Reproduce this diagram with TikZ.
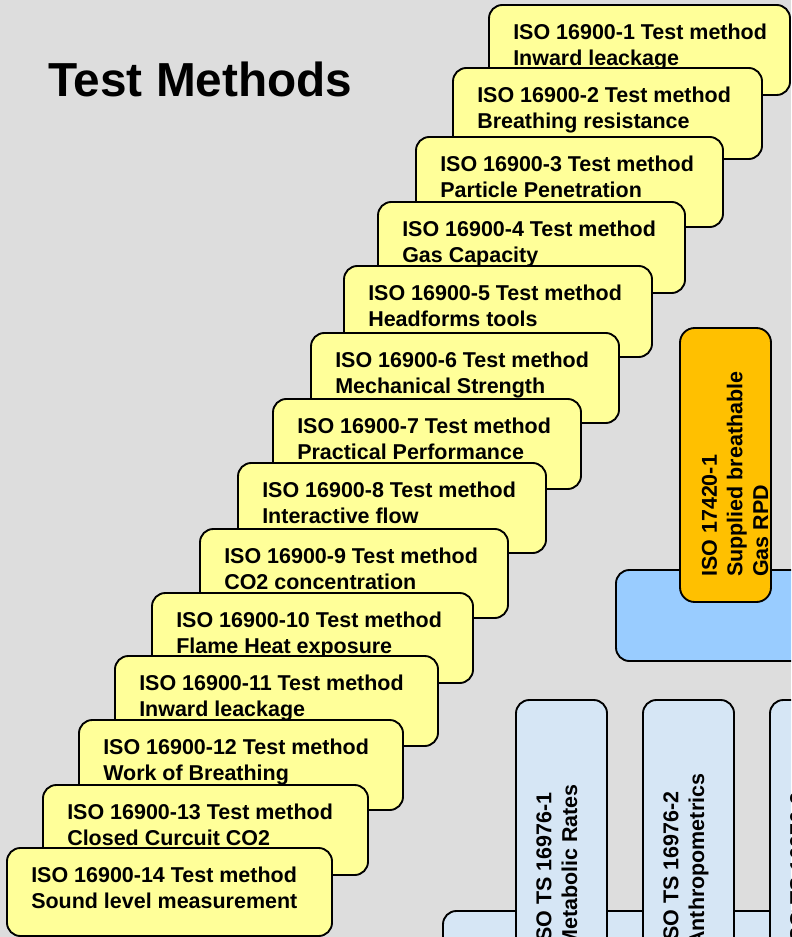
\documentclass[tikz,border=0pt]{standalone}
\usepackage{fontspec}
\setmainfont{Liberation Sans}
\usetikzlibrary{calc}
\definecolor{bg}{RGB}{221,221,221}
\definecolor{ylw}{RGB}{255,255,153}
\definecolor{orng}{RGB}{255,192,0}
\definecolor{skyb}{RGB}{153,204,255}
\definecolor{paleb}{RGB}{214,230,245}
\tikzset{
  basebox/.style={draw=black, line width=1.4pt, rounded corners=10pt, rectangle,
    anchor=north west, inner sep=0pt, outer sep=0pt},
  ybox/.style={basebox, fill=ylw},
  obox/.style={basebox, fill=orng, rounded corners=11pt},
  sbox/.style={basebox, fill=skyb},
  pbox/.style={basebox, fill=paleb},
  ttext/.style={font=\fontsize{16.1pt}{19.2pt}\selectfont\bfseries, align=left,
    anchor=base west, inner sep=0pt},
  rtext/.style={ttext, rotate=90},
  titletext/.style={font=\fontsize{35.8pt}{40pt}\selectfont\bfseries,
    anchor=base west, inner sep=0pt}
}
% name, left, top, right, bottom, line 1, line 2  (anchor = baseline of last line)
\newcommand\yellowbox[7]{%
  \node[ybox, minimum width={(#4-#2)*0.75pt}, minimum height={(#5-#3)*0.75pt}] (#1) at (#2,#3) {};
  \node[ttext] (#1t) at ($(#1.north west)+(24,60.5)$) {#6\\#7};
}
% style, name, left, top, right, bottom
\newcommand\plainbox[6]{%
  \node[#1, minimum width={(#5-#3)*0.75pt}, minimum height={(#6-#4)*0.75pt}] (#2) at (#3,#4) {};
}
\begin{document}
\begin{tikzpicture}[x=0.75pt, y=-0.75pt]
  \useasboundingbox (0,0) rectangle (791,937);
  \fill[bg] (0,0) rectangle (791,937);
  \clip (0,0) rectangle (791,937);

  \node[titletext] (title) at (48,97) {Test Methods};

  \yellowbox{b1}{489}{5}{790}{95}{ISO 16900-1 Test method}{Inward leackage}
  \yellowbox{b2}{453}{68}{762}{159}{ISO 16900-2 Test method}{Breathing resistance}
  \yellowbox{b3}{416}{137}{723}{227}{ISO 16900-3 Test method}{Particle Penetration}
  \yellowbox{b4}{378}{202}{685}{293}{ISO 16900-4 Test method}{Gas Capacity}
  \yellowbox{b5}{344}{266}{652}{357}{ISO 16900-5 Test method}{Headforms tools}
  \yellowbox{b6}{311}{333}{619}{423}{ISO 16900-6 Test method}{Mechanical Strength}
  \yellowbox{b7}{273}{399}{581}{489}{ISO 16900-7 Test method}{Practical Performance}
  \yellowbox{b8}{238}{463}{546}{553}{ISO 16900-8 Test method}{Interactive flow}
  \yellowbox{b9}{200}{529}{508}{618}{ISO 16900-9 Test method}{CO2 concentration}
  \yellowbox{b10}{152}{593}{473}{683}{ISO 16900-10 Test method}{Flame Heat exposure}
  \yellowbox{b11}{115}{656}{438}{746}{ISO 16900-11 Test method}{Inward leackage}
  \yellowbox{b12}{79}{720}{403}{810}{ISO 16900-12 Test method}{Work of Breathing}
  \yellowbox{b13}{43}{785}{368}{875}{ISO 16900-13 Test method}{Closed Curcuit CO2}
  \yellowbox{b14}{7}{848}{332}{936}{ISO 16900-14 Test method}{Sound level measurement}

  % supplied breathable gas group
  \plainbox{sbox}{gasbase}{616}{570}{830}{661}
  \plainbox{obox}{gas}{680}{328}{771}{602}
  \node[rtext] (gast) at (768,577) {ISO 17420-1\\Supplied breathable\\Gas RPD};

  % ISO TS 16976 group
  \plainbox{pbox}{tsbase}{443}{911}{900}{1010}
  \plainbox{pbox}{ts1}{516}{700}{607}{1010}
  \plainbox{pbox}{ts2}{643}{700}{734}{1010}
  \plainbox{pbox}{ts3}{770}{700}{861}{1010}
  \node[rtext] (ts1t) at (577,948) {ISO TS 16976-1\\Metabolic Rates};
  \node[rtext] (ts2t) at (704,947) {ISO TS 16976-2\\Anthropometrics};
  \node[rtext] (ts3t) at (805,948) {ISO TS 16976-3};
\end{tikzpicture}
\end{document}
